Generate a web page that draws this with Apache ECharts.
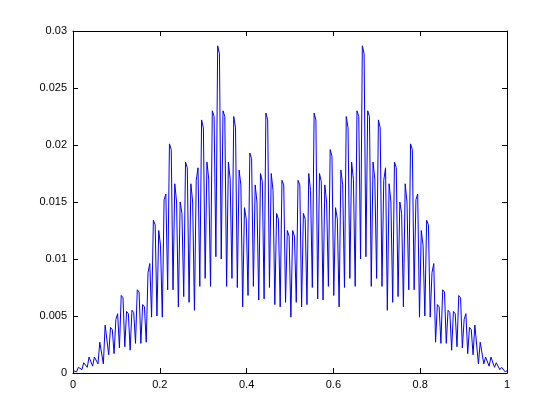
<!DOCTYPE html>
<html>
<head>
<meta charset="utf-8">
<script src="https://cdn.jsdelivr.net/npm/echarts@6/dist/echarts.min.js"></script>
<style>html,body{margin:0;padding:0;background:#fff;}#c{width:560px;height:420px;}</style>
</head>
<body>
<div id="c"></div>
<script>
// Peak value at the start of each 1/81 cell (k = 0..81)
const peaks = [0.0002,0.0005,0.0009,0.0014,0.0014,0.0027,0.0042,0.0040,0.0047,0.0068,
 0.0054,0.0055,0.0073,0.0060,0.0088,0.0134,0.0125,0.0152,0.0201,0.0166,
 0.0150,0.0185,0.0166,0.0169,0.0222,0.0185,0.0230,0.0287,0.0230,0.0185,
 0.0225,0.0178,0.0145,0.0193,0.0165,0.0175,0.0228,0.0175,0.0140,0.0169,
 0.0125,0.0125,0.0169,0.0140,0.0175,0.0228,0.0175,0.0165,0.0196,0.0145,
 0.0178,0.0225,0.0185,0.0230,0.0287,0.0230,0.0185,0.0222,0.0169,0.0166,
 0.0185,0.0150,0.0166,0.0201,0.0152,0.0125,0.0134,0.0088,0.0060,0.0073,
 0.0055,0.0054,0.0068,0.0047,0.0040,0.0042,0.0027,0.0014,0.0014,0.0009,
 0.0005,0.0002];
// Shoulder value following each peak (k = 0..80)
const shoulders = [0.0003,0.0006,0.0010,0.0013,0.0013,0.0026,0.0041,0.0038,0.0052,0.0066,
 0.0052,0.0053,0.0071,0.0058,0.0096,0.0130,0.0112,0.0157,0.0196,0.0150,
 0.0140,0.0180,0.0150,0.0180,0.0215,0.0170,0.0225,0.0280,0.0225,0.0170,
 0.0215,0.0165,0.0135,0.0188,0.0150,0.0168,0.0222,0.0160,0.0135,0.0165,
 0.0120,0.0120,0.0165,0.0135,0.0160,0.0222,0.0168,0.0150,0.0190,0.0135,
 0.0165,0.0215,0.0170,0.0225,0.0280,0.0225,0.0170,0.0215,0.0180,0.0150,
 0.0180,0.0140,0.0150,0.0196,0.0157,0.0112,0.0130,0.0096,0.0058,0.0071,
 0.0053,0.0052,0.0066,0.0052,0.0038,0.0041,0.0026,0.0013,0.0013,0.0010,
 0.0006];
// Valley value inside each cell (k = 0..80)
const valleys = [0.0001,0.0003,0.0005,0.0006,0.0008,0.0008,0.0016,0.0017,0.0022,0.0023,
 0.0020,0.0026,0.0026,0.0027,0.0049,0.0050,0.0049,0.0073,0.0073,0.0058,
 0.0067,0.0062,0.0055,0.0076,0.0083,0.0076,0.0102,0.0100,0.0076,0.0083,
 0.0075,0.0058,0.0068,0.0076,0.0064,0.0065,0.0075,0.0060,0.0058,0.0062,
 0.0049,0.0062,0.0058,0.0060,0.0075,0.0065,0.0064,0.0076,0.0068,0.0058,
 0.0075,0.0083,0.0076,0.0100,0.0102,0.0076,0.0083,0.0076,0.0055,0.0062,
 0.0067,0.0058,0.0073,0.0073,0.0049,0.0050,0.0049,0.0027,0.0026,0.0026,
 0.0020,0.0023,0.0022,0.0017,0.0016,0.0008,0.0008,0.0006,0.0005,0.0003,
 0.0001];
const xTicks = [0, 0.2, 0.4, 0.6, 0.8, 1];
const yTicks = [0, 0.005, 0.01, 0.015, 0.02, 0.025, 0.03];

const n = valleys.length; // 81 cells
const N = 3 * n;
const data = [];
for (let k = 0; k < n; k++) {
  data.push([(3 * k) / N, peaks[k]]);
  data.push([(3 * k + 1) / N, shoulders[k]]);
  data.push([(3 * k + 2) / N, valleys[k]]);
}
data.push([1, peaks[n]]);

const font = {color: '#000', fontFamily: 'Liberation Sans, Arial, sans-serif', fontSize: 11};
const axLine = {show: true, onZero: false, lineStyle: {color: '#000', width: 1}};
const tick = {show: true, inside: true, length: 5, lineStyle: {color: '#000', width: 1}};

const chart = echarts.init(document.getElementById('c'), null, {renderer: 'canvas'});
chart.setOption({
  animation: false,
  backgroundColor: '#fff',
  grid: {left: 73, right: 53, top: 31, bottom: 47, containLabel: false},
  xAxis: [
    {type: 'value', position: 'bottom', min: xTicks[0], max: xTicks[xTicks.length - 1], interval: 0.2,
     axisLine: axLine, axisTick: tick, splitLine: {show: false},
     axisLabel: Object.assign({margin: 6, formatter: v => String(+v.toFixed(1))}, font)},
    {type: 'value', position: 'top', min: 0, max: 1, interval: 0.2,
     axisLine: axLine, axisTick: tick, splitLine: {show: false}, axisLabel: {show: false}}
  ],
  yAxis: [
    {type: 'value', position: 'left', min: yTicks[0], max: yTicks[yTicks.length - 1], interval: 0.005,
     axisLine: axLine, axisTick: tick, splitLine: {show: false},
     axisLabel: Object.assign({margin: 6, formatter: v => String(+v.toFixed(3))}, font)},
    {type: 'value', position: 'right', min: 0, max: 0.03, interval: 0.005,
     axisLine: axLine, axisTick: tick, splitLine: {show: false}, axisLabel: {show: false}}
  ],
  series: [{
    type: 'line', xAxisIndex: 0, yAxisIndex: 0, data: data,
    showSymbol: false, symbol: 'none',
    lineStyle: {color: '#0000ff', width: 1}
  }]
});
</script>
</body>
</html>
